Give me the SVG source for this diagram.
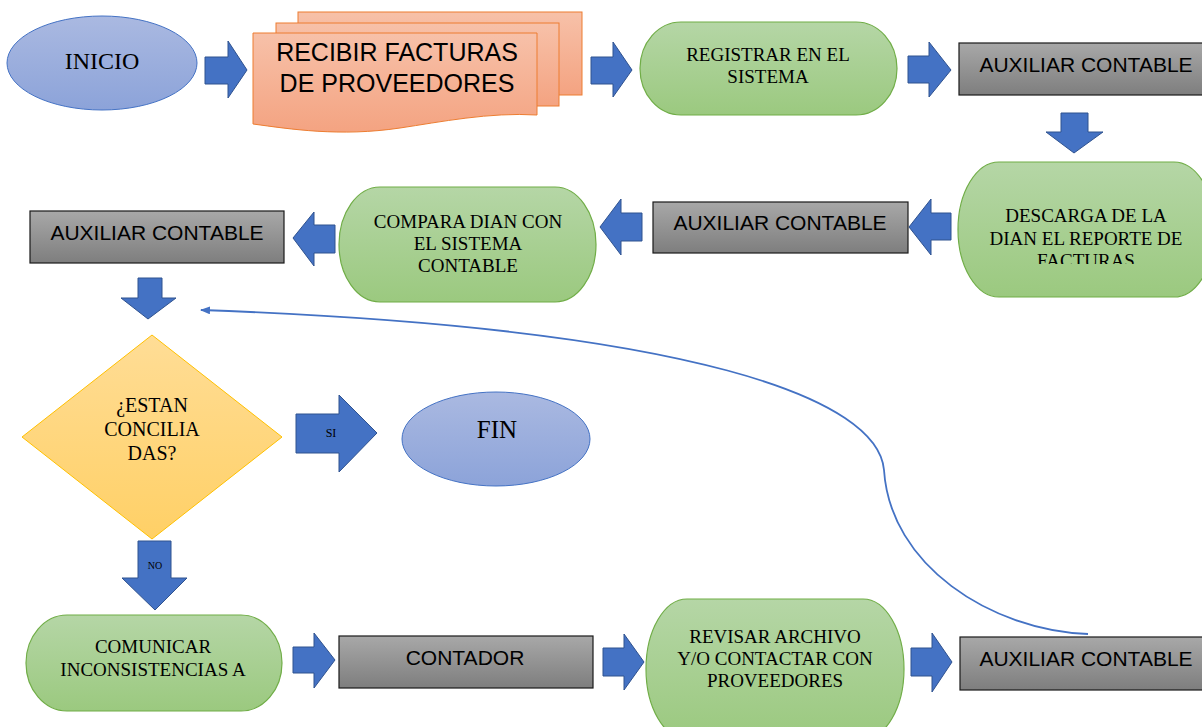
<svg xmlns="http://www.w3.org/2000/svg" width="1202" height="727" viewBox="0 0 1202 727">
<defs>
<linearGradient id="gBlue" x1="0" y1="0" x2="0" y2="1"><stop offset="0" stop-color="#AAB9E1"/><stop offset="1" stop-color="#8CA3D9"/></linearGradient>
<linearGradient id="gGreen" x1="0" y1="0" x2="0" y2="1"><stop offset="0" stop-color="#B5D6A6"/><stop offset="1" stop-color="#9BC97F"/></linearGradient>
<linearGradient id="gGrey" x1="0" y1="0" x2="0" y2="1"><stop offset="0" stop-color="#A8A8A8"/><stop offset="1" stop-color="#7E7E7E"/></linearGradient>
<linearGradient id="gOrange" x1="0" y1="0" x2="0" y2="1"><stop offset="0" stop-color="#F7C1A9"/><stop offset="1" stop-color="#F4A381"/></linearGradient>
<linearGradient id="gYellow" x1="0" y1="0" x2="0" y2="1"><stop offset="0" stop-color="#FFDD96"/><stop offset="1" stop-color="#FFD066"/></linearGradient>
<marker id="ah" markerWidth="10" markerHeight="8" refX="9" refY="4" orient="auto" markerUnits="userSpaceOnUse"><path d="M0,0 L10,4 L0,8 Z" fill="#4472C4"/></marker>
<clipPath id="clipDesc"><rect x="958" y="162" width="244" height="102"/></clipPath>
</defs>
<style>
.ell{fill:url(#gBlue);stroke:#4472C4;stroke-width:1}
.pill{fill:url(#gGreen);stroke:#70AD47;stroke-width:1.2}
.box{fill:url(#gGrey);stroke:#1a1a1a;stroke-width:1.2}
.doc{fill:url(#gOrange);stroke:#ED7D31;stroke-width:1}
.dia{fill:url(#gYellow);stroke:#FFC000;stroke-width:1}
.arr{fill:#4472C4;stroke:#2F528F;stroke-width:1}
.serif{font-family:"Liberation Serif","Times New Roman",serif;fill:#000;text-anchor:middle}
.sans{font-family:"Liberation Sans",Arial,sans-serif;fill:#000;text-anchor:middle}
.t19{font-size:19px}
.t21{font-size:21px}
.line{fill:none;stroke:#4472C4;stroke-width:1.8}
</style>
<g id="connectors">
<polygon class="arr" points="205,57 228,57 228,41 247,70 228,98 228,84 205,84"/>
<polygon class="arr" points="591,57 613,57 613,42 632,70 613,97 613,84 591,84"/>
<polygon class="arr" points="908,56 929,56 929,42 951,70 929,97 929,83 908,83"/>
<polygon class="arr" points="1061,113 1088,113 1088,132 1103,132 1074,153 1046,132 1061,132"/>
<polygon class="arr" points="951,213 931,213 931,199 909,227 931,255 931,240 951,240"/>
<polygon class="arr" points="642,213 621,213 621,199 600,227 621,255 621,241 642,241"/>
<polygon class="arr" points="335,225 314,225 314,212 293,238 314,266 314,253 335,253"/>
<polygon class="arr" points="138,278 162,278 162,298 176,298 148,319 121,298 138,298"/>
<polygon class="arr" points="296,414 339,414 339,395 377,433 339,472 339,453 296,453"/>
<text class="serif" x="331" y="437" font-size="12">SI</text>
<polygon class="arr" points="138,541 171,541 171,578 187,578 155,610 122,578 138,578"/>
<text class="serif" x="155" y="569" font-size="10">NO</text>
<polygon class="arr" points="293,647 314,647 314,633 335,660 314,688 314,673 293,673"/>
<polygon class="arr" points="603,648 624,648 624,634 644,662 624,690 624,676 603,676"/>
<polygon class="arr" points="911,648 932,648 932,633 952,662 932,692 932,676 911,676"/>
<path class="line" d="M1088,634 C990,630 890,565 884,470 C878,400 700,328 201,310" marker-end="url(#ah)"/>
</g>
<g id="inicio">
<ellipse class="ell" cx="102" cy="63" rx="95" ry="47"/>
<text class="serif" x="102" y="69" font-size="24">INICIO</text>
</g>
<g id="recibir">
<rect class="doc" x="298" y="12" width="284" height="83"/>
<rect class="doc" x="276" y="23" width="283" height="83"/>
<path class="doc" d="M253,33 H537 V115 C490,112 440,122 400,128 C340,137 290,129 253,124 Z"/>
<text class="sans" x="397" y="61" font-size="25">RECIBIR FACTURAS</text>
<text class="sans" x="397" y="92" font-size="25">DE PROVEEDORES</text>
</g>
<g id="registrar">
<rect class="pill" x="640" y="22" width="257" height="93" rx="41" ry="46.5"/>
<text class="serif t19" x="768" y="61">REGISTRAR EN EL</text>
<text class="serif t19" x="768" y="83">SISTEMA</text>
</g>
<g id="aux1">
<rect class="box" x="959" y="43" width="250" height="52"/>
<text class="sans t21" x="1086" y="72">AUXILIAR CONTABLE</text>
</g>
<g id="descarga">
<rect class="pill" x="958" y="162" width="257" height="135" rx="41" ry="67.5"/>
<g clip-path="url(#clipDesc)">
<text class="serif t19" x="1086" y="222">DESCARGA DE LA</text>
<text class="serif t19" x="1086" y="245">DIAN EL REPORTE DE</text>
<text class="serif t19" x="1086" y="267">FACTURAS</text>
</g>
</g>
<g id="aux2">
<rect class="box" x="653" y="202" width="255" height="51"/>
<text class="sans t21" x="780" y="230">AUXILIAR CONTABLE</text>
</g>
<g id="compara">
<rect class="pill" x="339" y="187" width="257" height="115" rx="41" ry="57.5"/>
<text class="serif t19" x="468" y="228">COMPARA DIAN CON</text>
<text class="serif t19" x="468" y="250">EL SISTEMA</text>
<text class="serif t19" x="468" y="272">CONTABLE</text>
</g>
<g id="aux3">
<rect class="box" x="30" y="211" width="254" height="52"/>
<text class="sans t21" x="157" y="240">AUXILIAR CONTABLE</text>
</g>
<g id="decision">
<polygon class="dia" points="152,335 282,437 152,539 22,437"/>
<text class="serif" x="152" y="412" font-size="20">¿ESTAN</text>
<text class="serif" x="152" y="436" font-size="20">CONCILIA</text>
<text class="serif" x="152" y="460" font-size="20">DAS?</text>
</g>
<g id="fin">
<ellipse class="ell" cx="496" cy="439" rx="94" ry="47"/>
<text class="serif" x="497" y="438" font-size="25">FIN</text>
</g>
<g id="comunicar">
<rect class="pill" x="26" y="615" width="256" height="96" rx="41" ry="48"/>
<text class="serif t19" x="153" y="653">COMUNICAR</text>
<text class="serif t19" x="153" y="676">INCONSISTENCIAS A</text>
</g>
<g id="contador">
<rect class="box" x="339" y="636" width="254" height="52"/>
<text class="sans t21" x="465" y="665">CONTADOR</text>
</g>
<g id="revisar">
<rect class="pill" x="646" y="599" width="258" height="140" rx="41" ry="70"/>
<text class="serif t19" x="775" y="643">REVISAR ARCHIVO</text>
<text class="serif t19" x="775" y="665">Y/O CONTACTAR CON</text>
<text class="serif t19" x="775" y="687">PROVEEDORES</text>
</g>
<g id="aux4">
<rect class="box" x="960" y="637" width="250" height="53"/>
<text class="sans t21" x="1086" y="666">AUXILIAR CONTABLE</text>
</g>
</svg>
